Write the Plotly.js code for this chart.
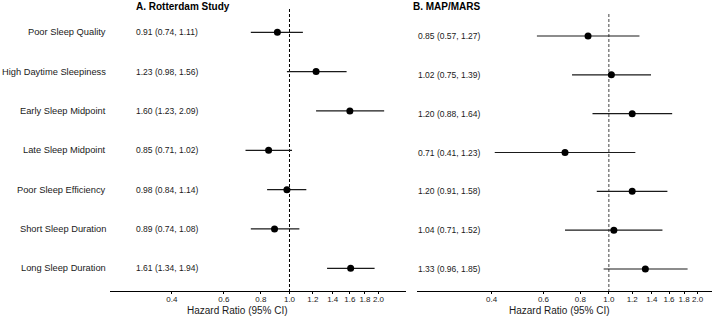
<!DOCTYPE html>
<html>
<head>
<meta charset="utf-8">
<script src="https://cdn.plot.ly/plotly-3.0.1.min.js"></script>
<style>
  html, body { margin: 0; padding: 0; background: #ffffff; }
  #chart { width: 722px; height: 319px; }
</style>
</head>
<body>
<div id="chart"></div>
<script>
// Sleep characteristics and hazard ratios (95% CI) in two cohorts
const exposures = [
  "Poor Sleep Quality",
  "High Daytime Sleepiness",
  "Early Sleep Midpoint",
  "Late Sleep Midpoint",
  "Poor Sleep Efficiency",
  "Short Sleep Duration",
  "Long Sleep Duration"
];

// A. Rotterdam Study
const rotterdamHR = [0.91, 1.23, 1.60, 0.85, 0.98, 0.89, 1.61];
const rotterdamLo = [0.74, 0.98, 1.23, 0.71, 0.84, 0.74, 1.34];
const rotterdamHi = [1.11, 1.56, 2.09, 1.02, 1.14, 1.08, 1.94];

// B. MAP/MARS
const mapmarsHR = [0.85, 1.02, 1.20, 0.71, 1.20, 1.04, 1.33];
const mapmarsLo = [0.57, 0.75, 0.88, 0.41, 0.91, 0.71, 0.96];
const mapmarsHi = [1.27, 1.39, 1.64, 1.23, 1.58, 1.52, 1.85];

const tickValues = [0.4, 0.6, 0.8, 1.0, 1.2, 1.4, 1.6, 1.8, 2.0];
const tickLabels = ["0.4", "0.6", "0.8", "1.0", "1.2", "1.4", "1.6", "1.8", "2.0"];

const panelTitles = ["A. Rotterdam Study", "B. MAP/MARS"];
const axisTitle = "Hazard Ratio (95% CI)";

// ---- layout helpers (pixel -> paper) ----
const W = 722, H = 319;
const px = v => v / W;
const py = v => 1 - v / H;
const FONT = "Liberation Sans, Arial, Helvetica, sans-serif";

const rows = exposures.map((_, i) => i + 1);
const fmt = v => v.toFixed(2);
const estText = (hr, lo, hi) => hr.map((h, i) => `${fmt(h)} (${fmt(lo[i])}, ${fmt(hi[i])})`);

const yRangeA = [7.577, 0.408];
const yRangeB = [7.567, 0.433];

function forestTrace(hr, lo, hi, xa, ya) {
  return {
    type: "scatter",
    mode: "markers",
    x: hr,
    y: rows,
    xaxis: xa,
    yaxis: ya,
    marker: { color: "#000000", size: 7, symbol: "circle" },
    error_x: {
      type: "data",
      symmetric: false,
      array: hi.map((h, i) => h - hr[i]),
      arrayminus: lo.map((l, i) => hr[i] - l),
      width: 0,
      thickness: 1.2,
      color: "#1a1a1a"
    },
    hoverinfo: "skip",
    showlegend: false,
    cliponaxis: false
  };
}

function refLine(xa, ya, yr, color) {
  return {
    type: "scatter",
    mode: "lines",
    x: [1, 1],
    y: [yr[1], yr[0]],
    xaxis: xa,
    yaxis: ya,
    line: { color: color, width: 1, dash: "3px,2px" },
    hoverinfo: "skip",
    showlegend: false,
    cliponaxis: false
  };
}

const data = [
  refLine("x", "y", yRangeA, "#000000"),
  refLine("x2", "y2", yRangeB, "#444444"),
  forestTrace(rotterdamHR, rotterdamLo, rotterdamHi, "x", "y"),
  forestTrace(mapmarsHR, mapmarsLo, mapmarsHi, "x2", "y2")
];

const xAxisBase = {
  type: "log",
  showline: true,
  linecolor: "#000000",
  linewidth: 1,
  ticks: "outside",
  ticklen: 2,
  tickwidth: 1,
  tickcolor: "#000000",
  tickvals: tickValues,
  ticktext: tickLabels,
  tickangle: 0,
  ticklabelstandoff: -2,
  tickfont: { family: FONT, size: 8, color: "#1a1a1a" },
  showgrid: false,
  zeroline: false,
  fixedrange: true
};

const yAxisBase = {
  showticklabels: false,
  showgrid: false,
  zeroline: false,
  showline: false,
  ticks: "",
  fixedrange: true
};

const annotations = [];

// exposure labels (left of panel A)
exposures.forEach((lab, i) => {
  annotations.push({
    xref: "paper", yref: "y", x: px(107.5), y: rows[i],
    xanchor: "right", yanchor: "middle", showarrow: false,
    text: lab, font: { family: FONT, size: 9.3, color: "#1a1a1a" }
  });
});

// estimate text columns
estText(rotterdamHR, rotterdamLo, rotterdamHi).forEach((t, i) => {
  annotations.push({
    xref: "paper", yref: "y", x: px(134), y: rows[i],
    xanchor: "left", yanchor: "middle", showarrow: false,
    text: t, font: { family: FONT, size: 8.5, color: "#1a1a1a" }
  });
});
estText(mapmarsHR, mapmarsLo, mapmarsHi).forEach((t, i) => {
  annotations.push({
    xref: "paper", yref: "y2", x: px(415.7), y: rows[i],
    xanchor: "left", yanchor: "middle", showarrow: false,
    text: t, font: { family: FONT, size: 8.5, color: "#1a1a1a" }
  });
});

// panel titles
annotations.push({
  xref: "paper", yref: "paper", x: px(134), y: py(6.5),
  xanchor: "left", yanchor: "middle", showarrow: false,
  text: "<b>" + panelTitles[0] + "</b>", font: { family: FONT, size: 10, color: "#000000" }
});
annotations.push({
  xref: "paper", yref: "paper", x: px(411.3), y: py(6.5),
  xanchor: "left", yanchor: "middle", showarrow: false,
  text: "<b>" + panelTitles[1] + "</b>", font: { family: FONT, size: 10, color: "#000000" }
});

// x-axis titles
annotations.push({
  xref: "paper", yref: "paper", x: px(237.5), y: py(310.5),
  xanchor: "center", yanchor: "middle", showarrow: false,
  text: axisTitle, font: { family: FONT, size: 10, color: "#1a1a1a" }
});
annotations.push({
  xref: "paper", yref: "paper", x: px(559), y: py(310.5),
  xanchor: "center", yanchor: "middle", showarrow: false,
  text: axisTitle, font: { family: FONT, size: 10, color: "#1a1a1a" }
});

const layout = {
  width: W,
  height: H,
  margin: { l: 0, r: 0, t: 0, b: 0, pad: 0 },
  paper_bgcolor: "#ffffff",
  plot_bgcolor: "#ffffff",
  showlegend: false,
  font: { family: FONT, color: "#1a1a1a" },
  xaxis: Object.assign({}, xAxisBase, {
    domain: [px(110), px(405.7)],
    range: [-0.607, 0.393],
    anchor: "y"
  }),
  xaxis2: Object.assign({}, xAxisBase, {
    domain: [px(417.3), px(712)],
    range: [-0.65, 0.35],
    anchor: "y2"
  }),
  yaxis: Object.assign({}, yAxisBase, {
    domain: [py(291), py(9)],
    range: yRangeA,
    anchor: "x"
  }),
  yaxis2: Object.assign({}, yAxisBase, {
    domain: [py(291), py(14)],
    range: yRangeB,
    anchor: "x2"
  }),
  annotations: annotations
};

Plotly.newPlot("chart", data, layout, { staticPlot: true, displayModeBar: false });
</script>
</body>
</html>
